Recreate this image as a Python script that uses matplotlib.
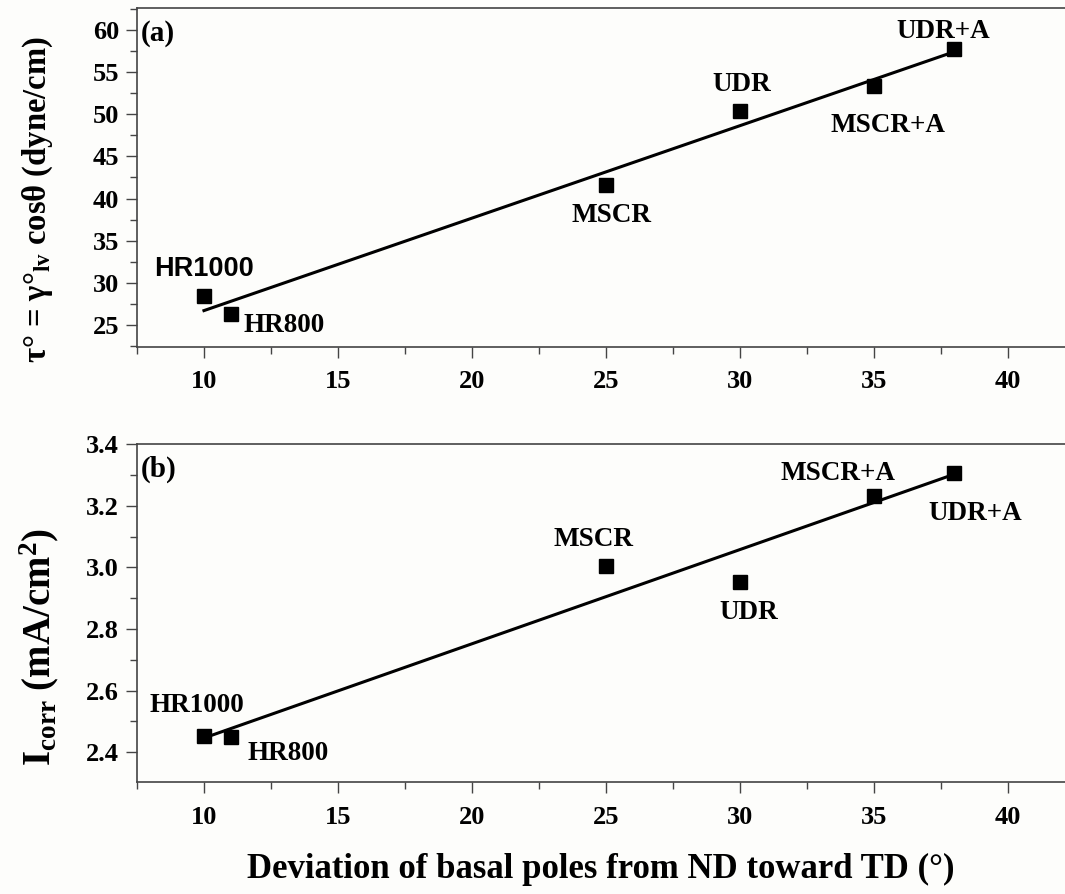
import numpy as np
import matplotlib
matplotlib.use("Agg")
import matplotlib.pyplot as plt
from matplotlib.ticker import MultipleLocator

plt.rcParams['font.family'] = ['Liberation Serif', 'DejaVu Serif']
plt.rcParams['font.weight'] = 'bold'
plt.rcParams['mathtext.fontset'] = 'custom'
plt.rcParams['mathtext.rm'] = 'Liberation Serif:bold'
plt.rcParams['mathtext.bf'] = 'Liberation Serif:bold'
plt.rcParams['mathtext.it'] = 'Liberation Serif:bold:italic'

# data
samples = ['HR1000', 'HR800', 'MSCR', 'UDR', 'MSCR+A', 'UDR+A']
deviation = [10, 11, 25, 30, 35, 38]
tau = [28.45, 26.3, 41.6, 50.4, 53.4, 57.7]
icorr = [2.452, 2.45, 3.006, 2.953, 3.232, 3.306]

# label offsets (points) for each sample in each panel
off_a = [(0, 19), (9, -8), (4, -22), (1, 19), (10, -29), (-8, 13)]
ha_a = ['center', 'left', 'center', 'center', 'center', 'center']
off_b = [(-5, 22), (12, -12), (-9, 19), (6, -22), (-26, 16), (15, -29)]
ha_b = ['center', 'left', 'center', 'center', 'center', 'center']

bg = '#fdfdfb'
fig = plt.figure(figsize=(10.65, 8.94), dpi=100, facecolor=bg)
ax1 = fig.add_axes([0.1286, 0.612, 0.8714, 0.379], facecolor=bg)
ax2 = fig.add_axes([0.1286, 0.125, 0.8714, 0.378], facecolor=bg)


def style(ax):
    ax.set_xlim(7.5, 42.13)
    ax.xaxis.set_major_locator(MultipleLocator(5))
    ax.xaxis.set_minor_locator(MultipleLocator(2.5))
    ax.spines['right'].set_visible(False)
    for s in ['left', 'top', 'bottom']:
        ax.spines[s].set_color('#444444')
        ax.spines[s].set_linewidth(1.2)
    ax.tick_params(which='major', direction='out', length=8, width=1.0,
                   color='#444444', labelsize=19, pad=5)
    ax.tick_params(which='minor', direction='out', length=5, width=1.0,
                   color='#444444')
    ax.tick_params(axis='x', which='major', pad=9)
    for lab in ax.get_xticklabels() + ax.get_yticklabels():
        lab.set_fontweight('bold')


def draw(ax, y, offs, has, sans_first=False):
    x = np.array(deviation)
    yy = np.array(y)
    k, b = np.polyfit(x, yy, 1)
    xf = np.array([x.min(), x.max()])
    ax.plot(xf, k * xf + b, color='black', lw=2.2, zorder=2)
    ax.plot(x, yy, 's', color='black', ms=9.5, zorder=3)
    for i, name in enumerate(samples):
        fam = 'Liberation Sans' if (sans_first and i == 0) else 'Liberation Serif'
        ax.annotate(name, (x[i], yy[i]), xytext=offs[i], textcoords='offset points',
                    ha=has[i], va='center', fontsize=19.5, fontweight='bold',
                    family=fam)


draw(ax1, tau, off_a, ha_a, sans_first=True)
ax1.set_ylim(22.4, 62.6)
ax1.yaxis.set_major_locator(MultipleLocator(5))
ax1.yaxis.set_minor_locator(MultipleLocator(2.5))
style(ax1)
ax1.text(0.004, 0.965, '(a)', transform=ax1.transAxes, fontsize=21,
         fontweight='bold', va='top', ha='left')
ax1.set_ylabel('τ° = γ°$_{\\mathbf{lv}}$ cosθ (dyne/cm)', fontsize=23.5,
               fontweight='bold')
ax1.yaxis.set_label_coords(-0.088, 0.434)

draw(ax2, icorr, off_b, ha_b)
ax2.set_ylim(2.302, 3.4)
ax2.yaxis.set_major_locator(MultipleLocator(0.2))
ax2.yaxis.set_minor_locator(MultipleLocator(0.1))
style(ax2)
ax2.text(0.004, 0.965, '(b)', transform=ax2.transAxes, fontsize=21,
         fontweight='bold', va='top', ha='left')
ax2.set_ylabel('$\\mathbf{I_{corr}}$ (mA/cm$^{\\mathbf{2}}$)', fontsize=28,
               fontweight='bold')
ax2.yaxis.set_label_coords(-0.082, 0.40)

ax2.set_xlabel('Deviation of basal poles from ND toward TD (°)', fontsize=25,
               fontweight='bold', labelpad=17)

fig.savefig('out.png', dpi=100, facecolor=bg)
